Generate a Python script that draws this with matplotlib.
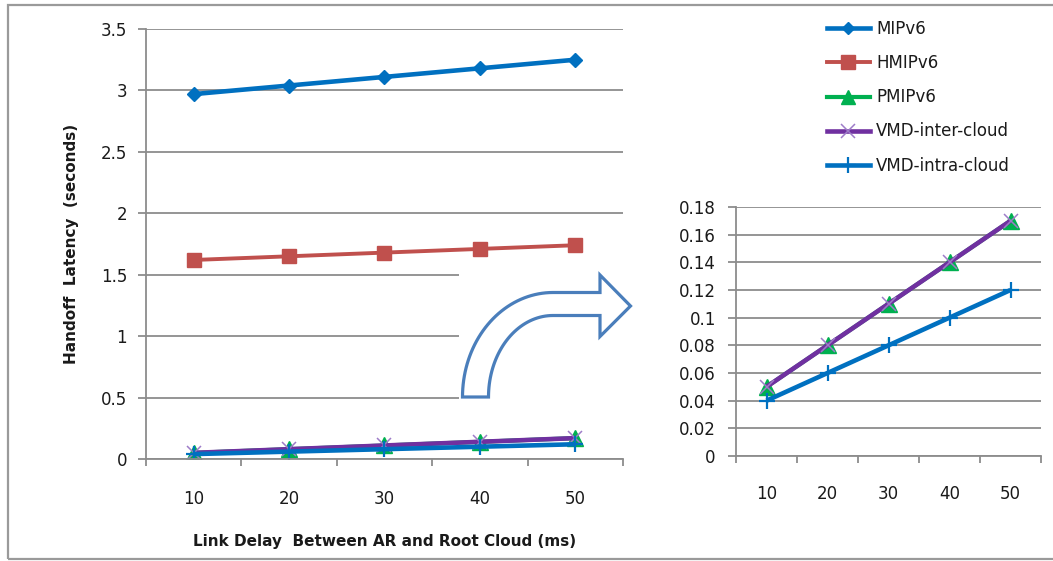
import numpy as np
import matplotlib
matplotlib.use("Agg")
import matplotlib.pyplot as plt
from matplotlib.lines import Line2D
from matplotlib.patches import Rectangle, PathPatch
from matplotlib.path import Path
from matplotlib.ticker import FixedLocator, NullFormatter

# ---- data -------------------------------------------------------------
delays = [10, 20, 30, 40, 50]
mipv6 = [2.97, 3.04, 3.11, 3.18, 3.25]
hmipv6 = [1.62, 1.65, 1.68, 1.71, 1.74]
pmipv6 = [0.05, 0.08, 0.11, 0.14, 0.17]
vmd_inter = [0.05, 0.08, 0.11, 0.14, 0.17]
vmd_intra = [0.04, 0.06, 0.08, 0.10, 0.12]

series_names = ["MIPv6", "HMIPv6", "PMIPv6", "VMD-inter-cloud", "VMD-intra-cloud"]
main_yticks = [0, 0.5, 1, 1.5, 2, 2.5, 3, 3.5]
zoom_yticks = [0, 0.02, 0.04, 0.06, 0.08, 0.1, 0.12, 0.14, 0.16, 0.18]

# ---- styling ----------------------------------------------------------
plt.rcParams["font.family"] = ["DejaVu Sans"]
W, H = 1053, 561
DPI = 100
GRID = "#8c8c8c"
TXT = "#1a1a1a"

styles = [
    dict(color="#0070C0", lw=3.3, marker="D", ms=7.5, mfc="#0070C0", mec="#0070C0", mew=1),
    dict(color="#C0504D", lw=2.8, marker="s", ms=10.5, mfc="#C0504D", mec="#C0504D", mew=1),
    dict(color="#00B050", lw=3.0, marker="^", ms=11.5, mfc="#00B050", mec="#00B050", mew=1),
    dict(color="#7030A0", lw=3.3, marker="x", ms=9.5, mfc="#9E7CC8", mec="#9E7CC8", mew=1.1),
    dict(color="#0070C0", lw=3.3, marker="+", ms=12, mfc="#0070C0", mec="#0070C0", mew=1.6),
]
legend_ms = [6.5, 9.5, 9.5, 9.5, 11]
all_series = [mipv6, hmipv6, pmipv6, vmd_inter, vmd_intra]


def fx(x):
    return x / W


def fy(y):
    return 1 - y / H


def box(l, t, r, b):
    return [fx(l), fy(b), fx(r) - fx(l), fy(t) - fy(b)]


fig = plt.figure(figsize=(W / DPI, H / DPI), dpi=DPI)
fig.patch.set_facecolor("white")


def style_axes(ax, yticks, ylim, label_fmt, ytick_pad, xlabel_pad):
    n = len(delays)
    pos = np.arange(n)
    for vals, st in zip(all_series, styles):
        ax.plot(pos, vals, solid_capstyle="butt", **st)
    ax.set_xlim(-0.5, n - 0.5)
    ax.set_ylim(*ylim)
    ax.set_yticks(yticks)
    ax.set_yticklabels([label_fmt(v) for v in yticks])
    ax.yaxis.grid(True, color=GRID, lw=1.3)
    ax.set_axisbelow(True)
    # category boundaries carry tick marks, centres carry labels
    ax.xaxis.set_major_locator(FixedLocator(np.arange(n + 1) - 0.5))
    ax.xaxis.set_major_formatter(NullFormatter())
    ax.xaxis.set_minor_locator(FixedLocator(pos))
    ax.set_xticklabels([str(d) for d in delays], minor=True)
    ax.tick_params(axis="x", which="major", length=5, width=1.3, color=GRID, direction="out")
    ax.tick_params(axis="x", which="minor", length=0, pad=xlabel_pad, labelsize=12, labelcolor=TXT)
    ax.tick_params(axis="y", length=5.5, width=1.3, color=GRID, pad=ytick_pad, labelsize=12, labelcolor=TXT)
    for s in ("top", "right"):
        ax.spines[s].set_visible(False)
    for s in ("left", "bottom"):
        ax.spines[s].set_color(GRID)
        ax.spines[s].set_linewidth(1.3)
    ax.patch.set_alpha(0)


# ---- main chart -------------------------------------------------------
ax = fig.add_axes(box(146, 29, 623, 459))
style_axes(ax, main_yticks, (0, 3.5), lambda v: f"{v:g}", 8, 22)
ax.set_ylabel("Handoff  Latency  (seconds)", fontsize=11, fontweight="bold",
              color=TXT, labelpad=16)
ax.set_xlabel("Link Delay  Between AR and Root Cloud (ms)", fontsize=11,
              fontweight="bold", color=TXT, labelpad=19)
ax.zorder = 0

# white backdrop of the zoomed view, hiding part of the grid
fig.patches.append(Rectangle((fx(459), fy(428)), fx(640) - fx(459), fy(262) - fy(428),
                             transform=fig.transFigure, facecolor="white",
                             edgecolor="none", zorder=1))

# ---- zoomed chart -----------------------------------------------------
ax2 = fig.add_axes(box(736, 207, 1041, 456))
style_axes(ax2, zoom_yticks, (0, 0.18), lambda v: f"{v:g}", 9, 21)
ax2.zorder = 2

# ---- curved arrow pointing into the zoomed chart ----------------------
cx, cy = 553, 397
t_out = np.linspace(np.pi, np.pi / 2, 40)
t_in = np.linspace(np.pi / 2, np.pi, 40)
pts = []
pts += [(cx + 90.5 * np.cos(t), cy - 104.5 * np.sin(t)) for t in t_out]
pts += [(600, 292.5), (600, 275), (630.5, 306), (600, 336.5), (600, 315.5)]
pts += [(cx + 64.5 * np.cos(t), cy - 81.5 * np.sin(t)) for t in t_in]
pts.append(pts[0])
verts = [(fx(x), fy(y)) for x, y in pts]
codes = [Path.MOVETO] + [Path.LINETO] * (len(verts) - 2) + [Path.CLOSEPOLY]
fig.patches.append(PathPatch(Path(verts, codes), transform=fig.transFigure,
                             facecolor="white", edgecolor="#4A7EBB", lw=2.3,
                             joinstyle="miter", zorder=3))

# ---- legend -----------------------------------------------------------
handles = []
for st, m in zip(styles, legend_ms):
    hs = dict(st)
    hs["ms"] = m
    handles.append(Line2D([], [], **hs))
fig.legend(handles, series_names, loc="upper left", bbox_to_anchor=(fx(827), fy(20)),
           frameon=False, fontsize=12, handlelength=2.55, handletextpad=0.4,
           labelspacing=0.97, borderpad=0, borderaxespad=0, labelcolor=TXT)

# ---- outer frame ------------------------------------------------------
fig.patches.append(Rectangle((fx(8), fy(559)), fx(1060) - fx(8), fy(5) - fy(559),
                             transform=fig.transFigure, facecolor="none",
                             edgecolor="#9a9a9a", lw=1.6, zorder=5))

fig.savefig("out.png", dpi=DPI)
